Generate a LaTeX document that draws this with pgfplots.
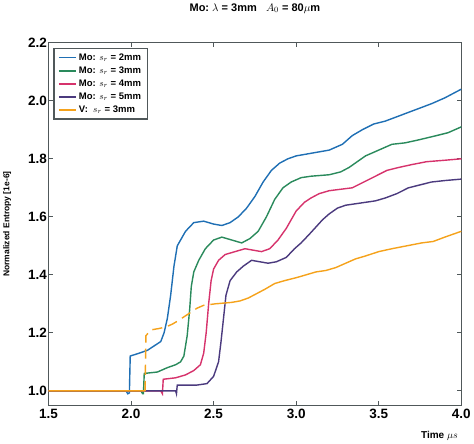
\documentclass[border=0pt]{standalone}
\usepackage{fontspec}
\setmainfont{Liberation Sans}
\usepackage{pgfplots}
\pgfplotsset{compat=1.18}

\definecolor{cblue}{RGB}{31,111,180}
\definecolor{cgreen}{RGB}{42,138,92}
\definecolor{cpink}{RGB}{214,51,108}
\definecolor{cpurple}{RGB}{75,58,126}
\definecolor{corange}{RGB}{245,162,27}
\definecolor{frame}{RGB}{80,88,90}

\begin{document}
\begin{tikzpicture}
\begin{axis}[
    scale only axis,
    width=411bp, height=361bp,
    xmin=1.5, xmax=4.0,
    ymin=0.95, ymax=2.2,
    xtick={1.5,2.0,2.5,3.0,3.5,4.0},
    ytick={1.0,1.2,1.4,1.6,1.8,2.0,2.2},
    /pgf/number format/.cd, fixed, fixed zerofill, precision=1, assume math mode=true,
    /pgfplots/.cd,
    tick label style={font=\fontsize{13.5}{14}\selectfont\bfseries},
    yticklabel style={xshift=2bp},
    tick align=inside,
    major tick length=4bp,
    axis line style={frame, line width=1.2bp},
    every tick/.style={frame, line width=0.8bp},
    title={Mo:\ $\lambda$\ =\ 3mm\ \ \ $A_0$\ =\ 80$\mu$m},
    title style={font=\fontsize{11}{12}\selectfont\bfseries, yshift=20bp},
    xlabel={Time $\mu s$},
    xlabel style={font=\fontsize{10}{11}\selectfont\bfseries, at={(rel axis cs:1,0)}, anchor=north east, yshift=-22bp},
    ylabel={Normalized Entropy [1e-6]},
    ylabel style={font=\fontsize{8.5}{9}\selectfont\bfseries, yshift=10bp},
    legend style={at={(0.012,0.986)}, anchor=north west,
        font=\fontsize{9.5}{10}\selectfont\bfseries,
        draw=frame, line width=1.2bp, row sep=1bp,
        inner xsep=4bp, inner ysep=3bp},
    legend image post style={line width=1.8bp},
    legend cell align=left,
    unbounded coords=jump,
    every axis plot/.append style={line width=1.4bp},
]
% Mo, s_r = 2mm
\addplot[cblue] coordinates {
(1.5,1.0) (1.97,1.0) (1.98,0.99) (1.99,0.993) (1.995,1.12) (2.05,1.13) (2.10,1.14)
(2.18,1.17) (2.20,1.20) (2.22,1.25) (2.24,1.33) (2.26,1.43) (2.28,1.50) (2.33,1.55)
(2.38,1.58) (2.44,1.585) (2.50,1.575) (2.55,1.57) (2.60,1.58) (2.65,1.60) (2.70,1.63)
(2.75,1.67) (2.80,1.72) (2.85,1.76) (2.90,1.785) (2.95,1.80) (3.0,1.81) (3.1,1.82)
(3.2,1.83) (3.28,1.85) (3.34,1.88) (3.40,1.90) (3.47,1.92) (3.54,1.93) (3.61,1.945)
(3.68,1.96) (3.75,1.975) (3.82,1.99) (3.9,2.01) (4.0,2.04)
};
\addlegendentry{Mo: $s_r$ = 2mm}
% Mo, s_r = 3mm
\addplot[cgreen] coordinates {
(1.5,1.0) (2.06,1.0) (2.07,0.99) (2.075,0.99) (2.08,1.06) (2.16,1.065) (2.22,1.08)
(2.27,1.09) (2.30,1.10) (2.32,1.12) (2.34,1.19) (2.355,1.28) (2.365,1.36) (2.38,1.41)
(2.41,1.45) (2.45,1.49) (2.50,1.52) (2.55,1.53) (2.61,1.52) (2.67,1.51) (2.72,1.525)
(2.77,1.55) (2.82,1.60) (2.87,1.66) (2.92,1.70) (2.97,1.72) (3.03,1.735) (3.09,1.74)
(3.20,1.745) (3.27,1.755) (3.32,1.77) (3.37,1.79) (3.42,1.81) (3.50,1.83) (3.58,1.85)
(3.66,1.855) (3.74,1.865) (3.85,1.88) (3.92,1.89) (4.0,1.91)
};
\addlegendentry{Mo: $s_r$ = 3mm}
% Mo, s_r = 4mm
\addplot[cpink] coordinates {
(1.5,1.0) (2.18,1.0) (2.19,0.99) (2.195,1.04) (2.27,1.045) (2.33,1.055) (2.38,1.07)
(2.42,1.09) (2.44,1.13) (2.455,1.20) (2.47,1.30) (2.485,1.38) (2.50,1.42) (2.53,1.45)
(2.57,1.47) (2.63,1.48) (2.69,1.49) (2.74,1.485) (2.79,1.48) (2.84,1.49) (2.89,1.52)
(2.94,1.56) (3.0,1.62) (3.05,1.65) (3.09,1.665) (3.14,1.68) (3.20,1.69) (3.27,1.695)
(3.34,1.70) (3.41,1.72) (3.48,1.74) (3.55,1.76) (3.62,1.77) (3.70,1.78) (3.79,1.79)
(3.9,1.795) (4.0,1.80)
};
\addlegendentry{Mo: $s_r$ = 4mm}
% Mo, s_r = 5mm
\addplot[cpurple] coordinates {
(1.5,1.0) (2.27,1.0) (2.275,0.99) (2.28,1.02) (2.34,1.02) (2.40,1.02) (2.46,1.025)
(2.50,1.05) (2.53,1.10) (2.545,1.17) (2.56,1.25) (2.575,1.33) (2.60,1.38) (2.64,1.41)
(2.68,1.43) (2.73,1.45) (2.78,1.445) (2.83,1.44) (2.88,1.445) (2.94,1.46) (2.99,1.49)
(3.03,1.51) (3.08,1.54) (3.12,1.565) (3.16,1.59) (3.20,1.61) (3.25,1.63) (3.30,1.64)
(3.36,1.645) (3.42,1.65) (3.48,1.655) (3.54,1.665) (3.61,1.68) (3.68,1.70) (3.75,1.71)
(3.82,1.72) (3.9,1.725) (4.0,1.73)
};
\addlegendentry{Mo: $s_r$ = 5mm}
% V, s_r = 3mm (solid parts)
\addplot[corange] coordinates {
(1.5,1.0) (2.085,1.0) (2.085,nan)
(2.51,1.30) (2.61,1.305) (2.66,1.31) (2.71,1.32) (2.76,1.335) (2.81,1.35) (2.87,1.37)
(2.93,1.38) (3.0,1.39) (3.06,1.40) (3.12,1.41) (3.18,1.415) (3.24,1.425) (3.30,1.44)
(3.36,1.455) (3.42,1.465) (3.50,1.48) (3.58,1.49) (3.67,1.50) (3.76,1.51) (3.83,1.515)
(3.90,1.53) (3.95,1.54) (4.0,1.55)
};
\addlegendentry{V:\ \ $s_r$ = 3mm}
% V, broken stretch
\addplot[corange, dash pattern=on 10bp off 6bp, forget plot] coordinates {
(2.085,1.0) (2.09,1.19) (2.12,1.21) (2.17,1.215) (2.21,1.22) (2.25,1.23) (2.28,1.24)
(2.32,1.255) (2.36,1.27) (2.40,1.285) (2.44,1.295) (2.51,1.30)
};
\end{axis}
\end{tikzpicture}
\end{document}
